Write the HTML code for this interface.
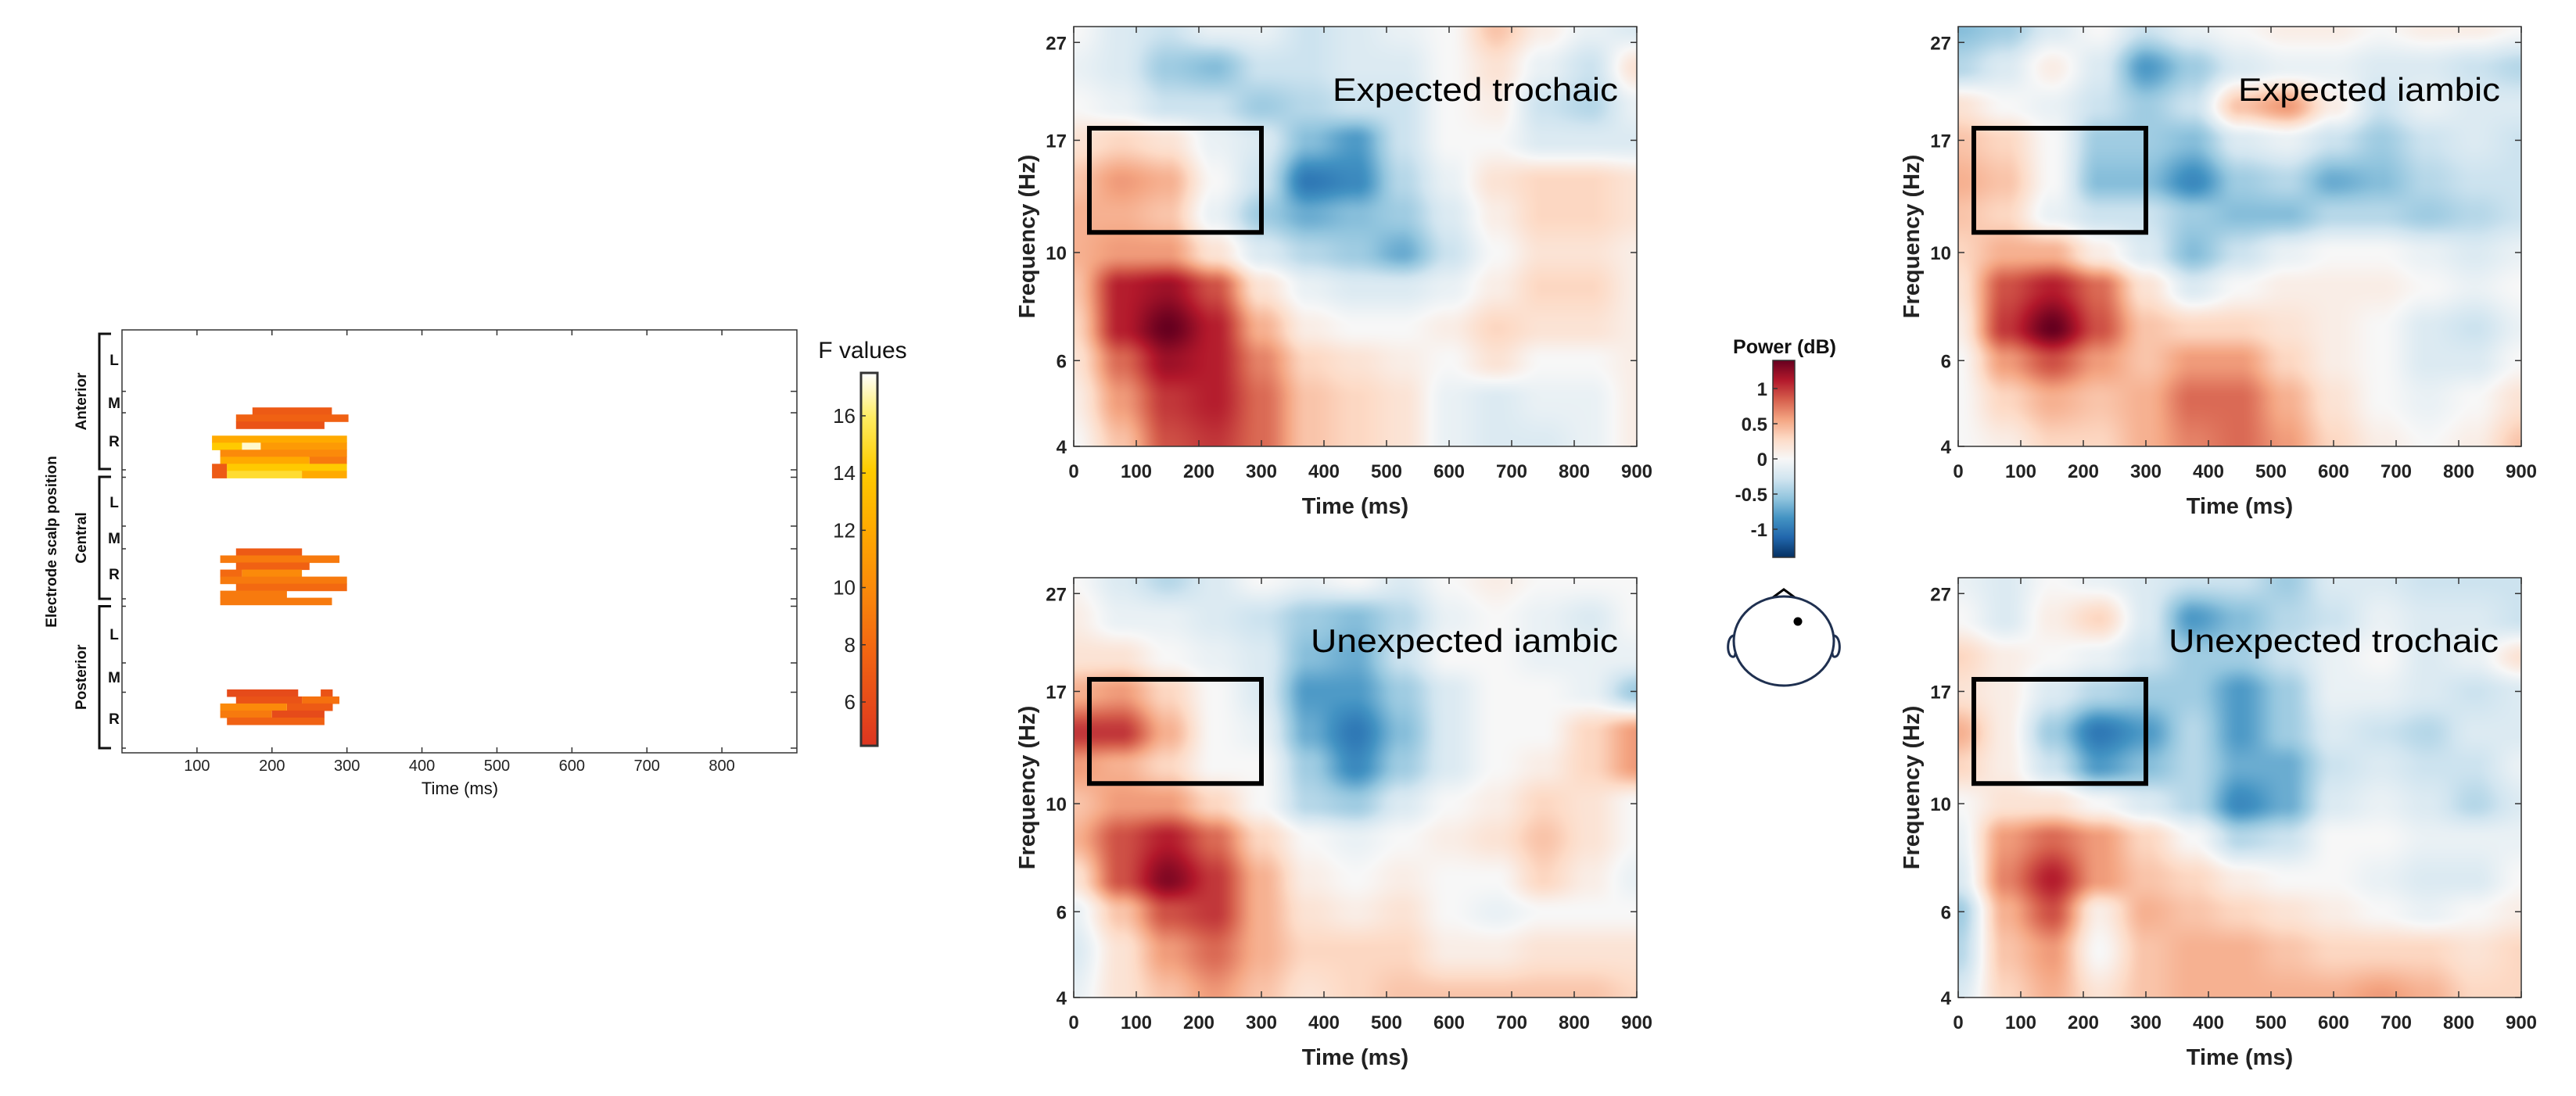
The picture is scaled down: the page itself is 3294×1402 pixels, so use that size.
<!DOCTYPE html>
<html><head><meta charset="utf-8">
<style>
html,body{margin:0;padding:0;background:#fff;}
#wrap{position:relative;width:3294px;height:1402px;overflow:hidden;background:#fff;}
canvas{position:absolute;}
svg{position:absolute;left:0;top:0;}
</style></head>
<body>
<div id="wrap">
<canvas id="hm0" width="720" height="537" style="left:1373px;top:34px"></canvas>
<canvas id="hm1" width="720" height="537" style="left:2504px;top:34px"></canvas>
<canvas id="hm2" width="720" height="537" style="left:1373px;top:739px"></canvas>
<canvas id="hm3" width="720" height="537" style="left:2504px;top:739px"></canvas>
<svg id="svg" width="3294" height="1402" xmlns="http://www.w3.org/2000/svg">
<defs>
<linearGradient id="rdbu" x1="0" y1="1" x2="0" y2="0">
<stop offset="0" stop-color="#053061"/><stop offset="0.1" stop-color="#2166ac"/><stop offset="0.2" stop-color="#4393c3"/><stop offset="0.3" stop-color="#92c5de"/><stop offset="0.4" stop-color="#d1e5f0"/><stop offset="0.5" stop-color="#f7f7f7"/><stop offset="0.6" stop-color="#fddbc7"/><stop offset="0.7" stop-color="#f4a582"/><stop offset="0.8" stop-color="#d6604d"/><stop offset="0.9" stop-color="#b2182b"/><stop offset="1" stop-color="#67001f"/>
</linearGradient>
<linearGradient id="hot" x1="0" y1="1" x2="0" y2="0">
<stop offset="0" stop-color="#dc3520"/><stop offset="0.25" stop-color="#f26512"/><stop offset="0.42" stop-color="#fb8a0a"/><stop offset="0.58" stop-color="#ffaa00"/><stop offset="0.74" stop-color="#ffcc00"/><stop offset="0.88" stop-color="#ffec60"/><stop offset="1" stop-color="#ffffff"/>
</linearGradient>
</defs>
<g id="left"></g>
<g id="heat"></g>
</svg>
</div>
<script>
// ---------- Left chart data: [row, startMs, endMs, F] ----------
const segRows   = [11,12,13,15,16,16,16,17,18,18,19,19,20,20,20,31,32,33,34,34,35,36,37,38,51,51,52,52,53,53,54,54,55];
const segStart  = [174,152,152,120,120,160,185,131,131,250,120,140,120,140,240,152,131,152,131,160,131,152,131,131,140,265,152,240,131,220,131,200,140];
const segEnd    = [280,302,270,300,160,185,300,300,250,300,140,300,140,240,300,240,290,250,160,240,300,300,220,280,235,281,240,290,220,281,200,270,270];
const segF      = [7,7.5,6.5,12,14,17,11,10,12,9,7,14,7,15,12,7,9,7.5,8,10,9,8,9,9,6,6.5,6.5,8.5,10,7,9,6,7.5];
const leftXTicks = [100,200,300,400,500,600,700,800];
const fTicks = [6,8,10,12,14,16];

// ---------- Heatmap data ----------
const hmTimes = [0,75,150,225,300,375,450,525,600,675,750,825,900];
const hmFreqs = [29,24,20,17,14,12,10,8.5,7,6,5,4];
const hmTitles = ["Expected trochaic","Expected iambic","Unexpected iambic","Unexpected trochaic"];
const hmXTicks = [0,100,200,300,400,500,600,700,800,900];
const hmYTicks = [4,6,10,17,27];
const powerTicks = [-1,-0.5,0,0.5,1];
const boxTimes = [25,300];
const boxFreqs = [11,18];
const powET = [
[0,-0.2,-0.3,-0.1,-0.1,-0.3,-0.2,-0.1,0,0.4,0.1,-0.1,-0.2],
[-0.1,-0.2,-0.5,-0.6,-0.3,-0.3,-0.2,-0.2,0,0.2,-0.1,-0.3,0.2],
[0,-0.1,-0.3,-0.3,-0.5,-0.4,-0.3,-0.3,0,0.1,-0.3,-0.4,-0.1],
[0.2,0.3,0.2,-0.1,-0.2,-0.6,-0.8,-0.3,0,0,-0.2,-0.2,-0.2],
[0.4,0.6,0.5,0,-0.3,-1.0,-0.9,-0.4,-0.1,0.2,0.3,0.3,0.2],
[0.5,0.5,0.4,-0.1,-0.5,-0.7,-0.6,-0.5,-0.2,0.1,0.3,0.3,0.2],
[0.5,0.6,0.6,0.2,-0.2,-0.4,-0.5,-0.7,-0.3,0,0.2,0.2,0.1],
[0.4,1.1,1.2,0.9,0.2,-0.1,-0.2,-0.2,-0.1,0.1,0.3,0.3,0.1],
[0.3,1.1,1.4,1.1,0.5,0.1,0,0,0.1,0.3,0.2,0.2,0.1],
[0.2,0.8,1.2,1.1,0.7,0.3,0.2,0.1,0,0.2,0,0,0.1],
[0.1,0.6,1.0,1.1,0.8,0.4,0.3,0.2,-0.1,-0.2,-0.1,-0.1,0.1],
[0,0.4,0.9,1.0,0.8,0.4,0.3,0.2,-0.1,-0.2,-0.2,-0.1,0.1]];
const powEI = [
[-0.6,-0.5,-0.2,0,-0.3,-0.1,0,0.1,0.1,0,0.1,0.1,0],
[-0.4,-0.2,0.1,-0.2,-0.8,-0.5,-0.2,-0.1,-0.1,-0.2,-0.2,-0.3,-0.4],
[0.2,0,-0.1,-0.3,-0.5,-0.3,0.4,0.6,0.1,-0.3,-0.1,-0.2,-0.2],
[0.4,0.3,0,-0.5,-0.5,-0.6,-0.2,-0.1,-0.3,-0.5,-0.3,-0.2,-0.3],
[0.5,0.4,0,-0.6,-0.6,-0.9,-0.5,-0.4,-0.7,-0.6,-0.4,-0.3,-0.3],
[0.4,0.3,-0.1,-0.3,-0.3,-0.5,-0.6,-0.6,-0.4,-0.4,-0.5,-0.4,-0.3],
[0.3,0.5,0.5,0.1,-0.2,-0.6,-0.3,-0.1,0,0,-0.1,-0.2,-0.1],
[0.2,0.9,1.1,0.8,0.2,-0.2,0,0.1,0.1,0.1,0,-0.1,0],
[0.1,1.0,1.4,0.9,0.4,0.3,0.3,0.2,0.1,0,-0.2,-0.3,-0.1],
[0,0.6,0.9,0.6,0.4,0.6,0.6,0.3,0.1,0,-0.2,-0.2,0],
[0,0.3,0.5,0.4,0.5,0.8,0.8,0.5,0.2,0,-0.1,0,0.2],
[0,0.1,0.3,0.3,0.5,0.7,0.8,0.6,0.3,0.1,0,0.1,0.4]];
const powUI = [
[0,-0.2,-0.4,-0.2,0,-0.1,0,-0.2,0,0.1,0,0,0],
[0.1,-0.1,-0.1,-0.2,-0.3,-0.5,-0.6,-0.4,-0.1,0,-0.1,-0.2,0],
[0.2,0.2,0,-0.1,-0.2,-0.6,-0.7,-0.3,0,0,-0.1,-0.1,-0.1],
[0.5,0.6,0.3,0,-0.2,-0.8,-0.8,-0.5,-0.2,0,0,-0.1,-0.5],
[1.0,1.0,0.5,0,-0.1,-0.7,-1.0,-0.6,-0.2,0,0,0.3,0.6],
[0.6,0.5,0.3,0,0,-0.5,-0.9,-0.5,-0.2,0,0.1,0.3,0.6],
[0.4,0.6,0.6,0.3,0,-0.4,-0.5,-0.2,0,0.1,0.3,0.2,0],
[0.5,0.9,1.1,0.8,0.3,0,-0.1,0,0.1,0.2,0.4,0.2,0],
[0.2,0.9,1.3,1.0,0.5,0.1,0,0.1,0,0,0.3,0.1,-0.1],
[-0.1,0.4,0.9,1.0,0.5,0.2,0.1,0.2,0,-0.1,0,0,0],
[-0.2,0.2,0.6,0.8,0.5,0.3,0.3,0.3,0.1,0.1,0.2,0.2,0.2],
[-0.1,0.2,0.4,0.6,0.4,0.2,0.3,0.4,0.4,0.4,0.4,0.4,0.3]];
const powUT = [
[-0.1,-0.2,0,-0.1,-0.2,-0.3,-0.3,-0.5,-0.2,-0.2,-0.3,-0.3,-0.3],
[0,-0.2,0.1,0.3,-0.2,-0.8,-0.6,-0.4,-0.3,-0.1,-0.2,-0.2,-0.3],
[0.3,0.1,0,-0.1,-0.3,-0.5,-0.5,-0.3,-0.1,0,-0.2,-0.1,0.2],
[0.2,0.1,-0.2,-0.4,-0.5,-0.5,-0.8,-0.5,-0.1,-0.1,-0.2,-0.3,-0.2],
[0.5,0.1,-0.5,-1.0,-0.8,-0.4,-0.8,-0.5,-0.2,-0.3,-0.4,-0.2,-0.2],
[0.3,0.1,-0.3,-0.8,-0.6,-0.4,-0.7,-0.7,-0.3,-0.2,-0.3,-0.3,-0.1],
[0,0.2,0.2,0,-0.2,-0.4,-0.9,-0.7,-0.2,-0.1,-0.2,-0.4,-0.2],
[-0.1,0.6,0.8,0.6,0.3,0,-0.4,-0.3,0,0,-0.1,-0.1,-0.1],
[-0.2,0.7,1.1,0.6,0.4,0.3,0.1,0,0,-0.1,-0.2,-0.2,0],
[-0.5,0.5,0.9,0.1,0.5,0.4,0.3,0.2,0.1,0,-0.1,0,0.1],
[-0.4,0.4,0.6,0,0.4,0.5,0.5,0.4,0.3,0.3,0.3,0.2,0.3],
[-0.2,0.3,0.5,0.2,0.4,0.5,0.5,0.5,0.5,0.6,0.5,0.3,0.3]];
const hmData = [powET, powEI, powUI, powUT];

const NS = "http://www.w3.org/2000/svg";
function mk(parent, tag, attrs, text){
  const e = document.createElementNS(NS, tag);
  for (const k in attrs) e.setAttribute(k, attrs[k]);
  if (text !== undefined) e.textContent = text;
  parent.appendChild(e);
  return e;
}
const NARROW = '"Liberation Sans Narrow","Liberation Sans",sans-serif';
const SANS = '"Liberation Sans",sans-serif';

// ---------- Left chart ----------
const L = document.getElementById('left');
const lx0 = 156, lx1 = 1019, ly0 = 422, ly1 = 963;
const lxs = ms => lx0 + ms / 900 * (lx1 - lx0);
const rowH = (ly1 - ly0) / 60;
const lys = r => ly0 + r * rowH;
const hotStops = [[4.5,[220,53,32]],[7.75,[242,101,18]],[10,[251,138,10]],[12,[255,170,0]],[14.1,[255,204,0]],[15.9,[255,236,96]],[17.5,[255,255,255]]];
function hotColor(v){
  for (let i=1;i<hotStops.length;i++){
    if (v <= hotStops[i][0] || i===hotStops.length-1){
      const a=hotStops[i-1], b=hotStops[i];
      let t=(v-a[0])/(b[0]-a[0]); t=Math.max(0,Math.min(1,t));
      return `rgb(${a[1].map((c,j)=>Math.round(c+(b[1][j]-c)*t)).join(',')})`;
    }
  }
}
for (let i=0;i<segRows.length;i++){
  const r = mk(L,'rect',{x:lxs(segStart[i]).toFixed(1), y:lys(segRows[i]).toFixed(1), width:(lxs(segEnd[i])-lxs(segStart[i])).toFixed(1), height:(rowH+0.6).toFixed(1), fill:hotColor(segF[i])});
  
  
}
const lbox = mk(L,'rect',{x:lx0,y:ly0,width:lx1-lx0,height:ly1-ly0,fill:'none',stroke:'#333','stroke-width':1.5});


leftXTicks.forEach(t=>{
  const x = lxs(t);
  mk(L,'line',{x1:x,y1:ly1,x2:x,y2:ly1-7,stroke:'#333','stroke-width':1.5});
  mk(L,'line',{x1:x,y1:ly0,x2:x,y2:ly0+7,stroke:'#333','stroke-width':1.5});
  const tl = mk(L,'text',{x:x,y:986,'text-anchor':'middle','font-family':NARROW,'font-size':20,fill:'#222'},String(t));
  
  
});
[500.6,528,601,610.5,673,702,766,775.5,848,885.5,957].forEach(y=>{
  mk(L,'line',{x1:lx1,y1:y,x2:lx1-8,y2:y,stroke:'#333','stroke-width':1.5});
  mk(L,'line',{x1:lx0,y1:y,x2:lx0+5,y2:y,stroke:'#333','stroke-width':1.5});
});
const lxt = mk(L,'text',{x:588,y:1016,'text-anchor':'middle','font-family':NARROW,'font-size':22,fill:'#111'},'Time (ms)');


const lyt = mk(L,'text',{x:0,y:0,transform:'translate(72,693) rotate(-90)','text-anchor':'middle','font-family':SANS,'font-weight':'bold','font-size':19,fill:'#111'},'Electrode scalp position');


const groups = [['Anterior',427,600,[460,515,564]],['Central',610,766,[642,688,734]],['Posterior',775.5,957,[811,866,919]]];
groups.forEach(g=>{
  const br = mk(L,'path',{d:`M142 ${g[1]} H127 V${g[2]} H142`,fill:'none',stroke:'#111','stroke-width':3});
  
  
  const gl = mk(L,'text',{x:0,y:0,transform:`translate(110,${(g[1]+g[2])/2}) rotate(-90)`,'text-anchor':'middle','font-family':SANS,'font-weight':'bold','font-size':19,fill:'#111'},g[0]);
  
  
  ['L','M','R'].forEach((s,k)=>{
    const t = mk(L,'text',{x:146,y:g[3][k]+7,'text-anchor':'middle','font-family':NARROW,'font-weight':'bold','font-size':19,fill:'#111'},s);
    
    
  });
});
// F colorbar
const fmin=4.47, fmax=17.5, fy0=954, fy1=477;
const fys = v => fy0 - (v-fmin)/(fmax-fmin)*(fy0-fy1);
const fcb = mk(L,'rect',{x:1101,y:fy1,width:21,height:fy0-fy1,fill:'url(#hot)',stroke:'#333','stroke-width':3});


fTicks.forEach(t=>{
  const y=fys(t);
  mk(L,'line',{x1:1101,y1:y,x2:1107,y2:y,stroke:'#333','stroke-width':1.5});
  const tl = mk(L,'text',{x:1094,y:y+9,'text-anchor':'end','font-family':NARROW,'font-size':26,fill:'#222'},String(t));
  
  
});
const ft = mk(L,'text',{x:1103,y:458,'text-anchor':'middle','font-family':NARROW,'font-size':30,fill:'#111'},'F values');



// ---------- Heatmaps ----------
const H = document.getElementById('heat');
const panels = [[1373,34],[2504,34],[1373,739],[2504,739]];
const titleRight = [2069,3197,2069,3195];
const titleLen = [365,335,393,422];
const HW=720, HH=537, vmax=1.4;
const lfTop=Math.log(29.1), lfBot=Math.log(4);
const hx = ms => ms/900*HW;
const hy = f => (lfTop-Math.log(f))/(lfTop-lfBot)*HH;
const rdbu = [[5,48,97],[33,102,172],[67,147,195],[146,197,222],[209,229,240],[247,247,247],[253,219,199],[244,165,130],[214,96,77],[178,24,43],[103,0,31]];
function rdbuColor(v){
  let t=(v+vmax)/(2*vmax); t=Math.max(0,Math.min(1,t))*10;
  const i=Math.min(9,Math.floor(t)), f=t-i;
  return rdbu[i].map((c,j)=>c+(rdbu[i+1][j]-c)*f);
}
const sm = t => t*t*(3-2*t);
const lfs = hmFreqs.map(f=>Math.log(f));
function sample(grid, ms, lf){
  let ti = Math.min(hmTimes.length-2, Math.max(0, Math.floor(ms/75)));
  let tt = sm(Math.max(0,Math.min(1,(ms-hmTimes[ti])/(hmTimes[ti+1]-hmTimes[ti]))));
  let fi = 0;
  while (fi < lfs.length-2 && lf < lfs[fi+1]) fi++;
  let ft2 = sm(Math.max(0,Math.min(1,(lfs[fi]-lf)/(lfs[fi]-lfs[fi+1]))));
  const a = grid[fi][ti]*(1-tt)+grid[fi][ti+1]*tt;
  const b = grid[fi+1][ti]*(1-tt)+grid[fi+1][ti+1]*tt;
  return a*(1-ft2)+b*ft2;
}
hmData.forEach((grid,p)=>{
  const cv = document.getElementById('hm'+p);
  const ctx = cv.getContext('2d');
  const img = ctx.createImageData(HW,HH);
  for (let y=0;y<HH;y++){
    const lf = lfTop - y/HH*(lfTop-lfBot);
    for (let x=0;x<HW;x++){
      const c = rdbuColor(sample(grid, x/HW*900, lf));
      const k=(y*HW+x)*4;
      img.data[k]=c[0]; img.data[k+1]=c[1]; img.data[k+2]=c[2]; img.data[k+3]=255;
    }
  }
  ctx.putImageData(img,0,0);

  const [px,py] = panels[p];
  const g = mk(H,'g',{transform:`translate(${px},${py})`});
  
  
  mk(g,'rect',{x:0,y:0,width:HW,height:HH,fill:'none',stroke:'#333','stroke-width':1.5});
  hmXTicks.forEach(t=>{
    const x=hx(t);
    mk(g,'line',{x1:x,y1:HH,x2:x,y2:HH-8,stroke:'#333','stroke-width':1.5});
    mk(g,'line',{x1:x,y1:0,x2:x,y2:8,stroke:'#333','stroke-width':1.5});
    const tl = mk(g,'text',{x:x,y:HH+40,'text-anchor':'middle','font-family':SANS,'font-weight':'bold','font-size':24,fill:'#222'},String(t));
    
    
  });
  hmYTicks.forEach(t=>{
    const y=hy(t);
    mk(g,'line',{x1:0,y1:y,x2:8,y2:y,stroke:'#333','stroke-width':1.5});
    mk(g,'line',{x1:HW,y1:y,x2:HW-8,y2:y,stroke:'#333','stroke-width':1.5});
    const tl = mk(g,'text',{x:-9,y:y+9,'text-anchor':'end','font-family':SANS,'font-weight':'bold','font-size':24,fill:'#222'},String(t));
    
    
  });
  const box = mk(g,'rect',{x:hx(boxTimes[0]),y:hy(boxFreqs[1]),width:hx(boxTimes[1])-hx(boxTimes[0]),height:hy(boxFreqs[0])-hy(boxFreqs[1]),fill:'none',stroke:'#000','stroke-width':6});
  
  
  const tt = mk(g,'text',{x:titleRight[p]-px,y:95,'text-anchor':'end','font-family':SANS,'font-size':42,fill:'#000',textLength:titleLen[p],lengthAdjust:'spacingAndGlyphs'},hmTitles[p]);
  
  
  const xt = mk(g,'text',{x:HW/2,y:HH+86,'text-anchor':'middle','font-family':SANS,'font-weight':'bold','font-size':29,fill:'#222'},'Time (ms)');
  
  
  const yt = mk(g,'text',{x:0,y:0,transform:`translate(-50,${HH/2}) rotate(-90)`,'text-anchor':'middle','font-family':SANS,'font-weight':'bold','font-size':29,fill:'#222'},'Frequency (Hz)');
  
  
});

// Power colorbar
const py0=713, py1=461;
const pys = v => py0 - (v+vmax)/(2*vmax)*(py0-py1);
const pcb = mk(H,'rect',{x:2267,y:py1,width:28,height:py0-py1,fill:'url(#rdbu)',stroke:'#333','stroke-width':1.5});


powerTicks.forEach(t=>{
  const y=pys(t);
  mk(H,'line',{x1:2267,y1:y,x2:2273,y2:y,stroke:'#333','stroke-width':1.5});
  const tl = mk(H,'text',{x:2260,y:y+9,'text-anchor':'end','font-family':SANS,'font-weight':'bold','font-size':24,fill:'#222'},String(t));
  
  
});
const pt = mk(H,'text',{x:2282,y:452,'text-anchor':'middle','font-family':SANS,'font-weight':'bold','font-size':25,fill:'#111'},'Power (dB)');



// Head
const head = mk(H,'g',{});


mk(head,'path',{d:'M2266 765 L2281 754 L2296 765',fill:'none',stroke:'#000','stroke-width':3});
mk(head,'path',{d:'M2218 813 C2208 812 2207 838 2215 840 C2218 841 2219 838 2219 835',fill:'none',stroke:'#1f3050','stroke-width':3});
mk(head,'path',{d:'M2344 813 C2354 812 2355 838 2347 840 C2344 841 2343 838 2343 835',fill:'none',stroke:'#1f3050','stroke-width':3});
mk(head,'ellipse',{cx:2281,cy:820,rx:64,ry:57,fill:'#fff',stroke:'#1f3050','stroke-width':3});
const dot = mk(head,'circle',{cx:2299,cy:795,r:5.5,fill:'#000'});


</script>
</body></html>
